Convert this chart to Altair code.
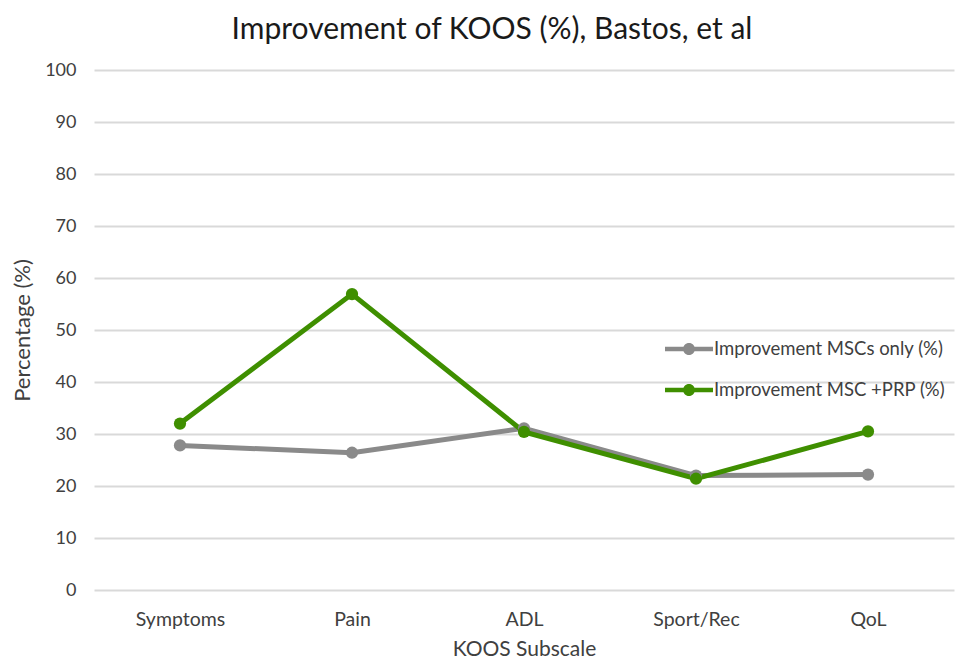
import altair as alt
import pandas as pd

categories = ["Symptoms", "Pain", "ADL", "Sport/Rec", "QoL"]
series_names = ["Improvement MSCs only (%)", "Improvement MSC +PRP (%)"]
msc_only = [27.8, 26.4, 31.1, 22.0, 22.2]
msc_prp = [32.0, 56.9, 30.4, 21.4, 30.5]
colors = ["#8a8a8a", "#3f8f00"]
y_ticks = [0, 10, 20, 30, 40, 50, 60, 70, 80, 90, 100]

rows = []
for name, col, vals in zip(series_names, colors, [msc_only, msc_prp]):
    for c, v in zip(categories, vals):
        rows.append({"Subscale": c, "Series": name, "Value": v, "Col": col})
df = pd.DataFrame(rows)

FONT = "Lato"
TXT = "#404040"

legend_path = (
    "M-2,-0.18H2V0.18H-2Z "
    "M0.5,0A0.5,0.5 0 1,1 -0.5,0A0.5,0.5 0 1,1 0.5,0Z"
)

x_enc = alt.X(
    "Subscale:N",
    sort=categories,
    scale=alt.Scale(type="point", padding=0.5),
    axis=alt.Axis(
        title="KOOS Subscale",
        labelAngle=0,
        domain=False,
        ticks=False,
        grid=False,
        labelPadding=20,
        titlePadding=10,
        labelFontSize=19.5,
        titleFontSize=21,
        labelColor=TXT,
        titleColor=TXT,
        labelFont=FONT,
        titleFont=FONT,
        titleFontWeight="normal",
    ),
)
y_enc = alt.Y(
    "Value:Q",
    scale=alt.Scale(domain=[0, 100], nice=False),
    axis=alt.Axis(
        title="Percentage (%)",
        values=y_ticks,
        domain=False,
        ticks=False,
        grid=True,
        gridColor="#d9d9d9",
        gridWidth=2,
        labelPadding=18,
        titlePadding=10,
        labelFontSize=18,
        titleFontSize=22,
        labelColor=TXT,
        titleColor=TXT,
        labelFont=FONT,
        titleFont=FONT,
        titleFontWeight="normal",
    ),
)
color_scale = alt.Scale(domain=series_names, range=colors)

lines = alt.Chart(df).mark_line(strokeWidth=5).encode(
    x=x_enc,
    y=y_enc,
    detail="Series:N",
    stroke=alt.Stroke("Col:N", scale=None),
)

points = alt.Chart(df).mark_point(filled=True, size=150, opacity=1).encode(
    x=x_enc,
    y=y_enc,
    fill=alt.Fill(
        "Series:N",
        scale=color_scale,
        legend=alt.Legend(
            title=None,
            orient="none",
            legendX=583,
            legendY=267,
            symbolType=legend_path,
            symbolSize=576,
            symbolStrokeWidth=0,
            symbolOpacity=1,
            labelOffset=13,
            rowPadding=19,
            padding=0,
            labelFontSize=18.5,
            labelFont=FONT,
            labelColor=TXT,
            labelLimit=400,
        ),
    ),
)

chart = alt.layer(lines, points).properties(
    width=860,
    height=520,
    title=alt.TitleParams(
        "Improvement of KOOS (%), Bastos, et al",
        fontSize=30,
        font=FONT,
        fontWeight="normal",
        color="#1a1a1a",
        anchor="middle",
        dx=-32,
        offset=16,
    ),
    autosize=alt.AutoSizeParams(type="none"),
    padding={"left": 86, "top": 62, "right": 5, "bottom": 69},
).configure_view(stroke=None)

chart.save("out.html", embed_options={"renderer": "svg", "actions": False})
